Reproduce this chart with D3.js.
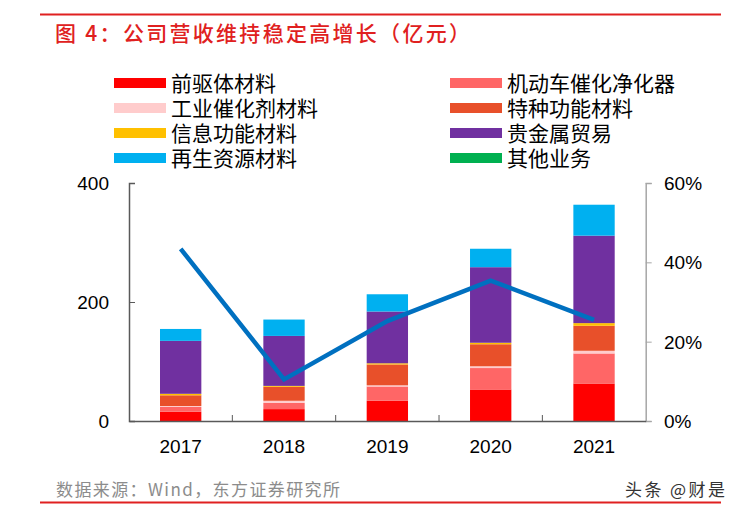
<!DOCTYPE html>
<html><head><meta charset="utf-8">
<script src="https://cdn.jsdelivr.net/npm/d3@7"></script>
<style>
body{margin:0;background:#fff;}
svg text{font-family:"Liberation Sans","Noto Sans CJK SC",Arial,sans-serif;}
.cjk{font-family:"Noto Sans CJK SC","Liberation Sans",sans-serif;}
</style></head>
<body><svg id="c" width="738" height="514"></svg>
<script>
const years = ["2017","2018","2019","2020","2021"];
const seriesNames = ["前驱体材料","机动车催化净化器","工业催化剂材料","特种功能材料","信息功能材料","贵金属贸易","再生资源材料","其他业务"];
const seriesColors = ["#FF0000","#FF6666","#FFCCCC","#E8502A","#FFC000","#7030A0","#00B0F0","#00B050"];
const precursor   = [15.7, 20, 34, 53, 63];
const autoCat     = [8, 10.5, 24, 36, 50.5];
const indCat      = [1.5, 3.5, 2, 3, 4.5];
const special     = [18, 23.5, 35, 37, 42];
const infoMat     = [2.5, 1.5, 2, 2.5, 4.5];
const preciousTr  = [89, 84, 87, 127, 147];
const recycling   = [20, 27.5, 29, 31, 52];
const others      = [0, 0, 0, 0, 0];
const growth      = [43.4, 10.5, 25.2, 35.4, 25.5];
const leftTicks   = [0, 200, 400];
const rightTicks  = [0, 20, 40, 60];

const seriesVals = [precursor, autoCat, indCat, special, infoMat, preciousTr, recycling, others];
const rows = years.map((y,i)=>{const r={year:y}; seriesNames.forEach((n,k)=>r[n]=seriesVals[k][i]); return r;});

const svg = d3.select("#c");
const L=129, R=645.7, T=183, B=421;
const x = d3.scaleBand().domain(years).range([L,R]).paddingInner(0.6).paddingOuter(0.3);
const xb = d3.scaleBand().domain(years).range([L,R]);
const y = d3.scaleLinear().domain([0,400]).range([B,T]);
const y2 = d3.scaleLinear().domain([0,60]).range([B,T]);

// title & frame lines
svg.append("line").attr("x1",40).attr("x2",721).attr("y1",14.5).attr("y2",14.5).attr("stroke","#E02020").attr("stroke-width",2);
svg.append("text").attr("class","cjk").attr("x",55).attr("y",41).attr("fill","#E02020").attr("font-size",21).attr("font-weight","500")
  .attr("textLength",415).attr("lengthAdjust","spacing").text("图 4：公司营收维持稳定高增长（亿元）");
svg.append("line").attr("x1",40).attr("x2",721).attr("y1",502.5).attr("y2",502.5).attr("stroke","#E02020").attr("stroke-width",2);
svg.append("text").attr("class","cjk").attr("x",56).attr("y",496).attr("fill","#8C8C8C").attr("font-size",17)
  .attr("textLength",284).attr("lengthAdjust","spacing").text("数据来源：Wind，东方证券研究所");
svg.append("text").attr("class","cjk").attr("x",625).attr("y",496).attr("fill","#333").attr("font-size",17)
  .attr("textLength",100).attr("lengthAdjust","spacing").text("头条 @财是");

// legend
seriesNames.forEach((n,k)=>{
  const col = k%2, row = Math.floor(k/2);
  const sx = col===0 ? 114 : 450, tx = col===0 ? 171 : 507;
  const cy = 83 + row*25;
  svg.append("rect").attr("x",sx).attr("y",cy-5).attr("width",52).attr("height",10).attr("fill",seriesColors[k]);
  svg.append("text").attr("class","cjk").attr("x",tx).attr("y",cy).attr("dy","0.36em").attr("font-size",21).attr("fill","#000").text(n);
});

// stacked bars
const stack = d3.stack().keys(seriesNames)(rows);
svg.append("g").selectAll("g").data(stack).join("g").attr("fill",(d,i)=>seriesColors[i])
  .selectAll("rect").data(d=>d).join("rect")
  .attr("x",d=>x(d.data.year)).attr("width",x.bandwidth())
  .attr("y",d=>y(d[1])).attr("height",d=>Math.max(0,y(d[0])-y(d[1])));

// axes
const gl = svg.append("g").attr("transform",`translate(${L},0)`)
  .call(d3.axisRight(y).tickValues(leftTicks).tickSize(6).tickFormat(""));
gl.select(".domain").attr("stroke","#595959").attr("stroke-width",1.5);
gl.selectAll(".tick line").attr("stroke","#595959");
leftTicks.forEach(t=>svg.append("text").attr("x",109).attr("y",y(t)).attr("dy","0.36em").attr("text-anchor","end").attr("font-size",19).attr("fill","#000").text(t));

const gr = svg.append("g").attr("transform",`translate(${R},0)`)
  .call(d3.axisRight(y2).tickValues(rightTicks).tickSize(6).tickFormat(""));
gr.select(".domain").attr("stroke","#A6A6A6").attr("stroke-width",1.5);
gr.selectAll(".tick line").attr("stroke","#A6A6A6");
rightTicks.forEach(t=>svg.append("text").attr("x",664).attr("y",y2(t)).attr("dy","0.36em").attr("font-size",19).attr("fill","#000").text(t+"%"));

const gb = svg.append("g").attr("transform",`translate(0,${B})`)
  .call(d3.axisTop(xb).tickSize(0).tickFormat(""));
gb.select(".domain").attr("stroke","#595959").attr("stroke-width",1.5);
years.slice(1).forEach(yr=>svg.append("line").attr("x1",xb(yr)).attr("x2",xb(yr)).attr("y1",B).attr("y2",B-6).attr("stroke","#595959"));
years.forEach(yr=>svg.append("text").attr("x",xb(yr)+xb.bandwidth()/2).attr("y",446).attr("dy","0.36em").attr("text-anchor","middle").attr("font-size",19).attr("fill","#000").text(yr));

// growth line
svg.append("path").datum(growth)
  .attr("d",d3.line().x((d,i)=>xb(years[i])+xb.bandwidth()/2).y(d=>y2(d)))
  .attr("fill","none").attr("stroke","#0070C0").attr("stroke-width",4.5).attr("stroke-linejoin","miter");
</script></body></html>
